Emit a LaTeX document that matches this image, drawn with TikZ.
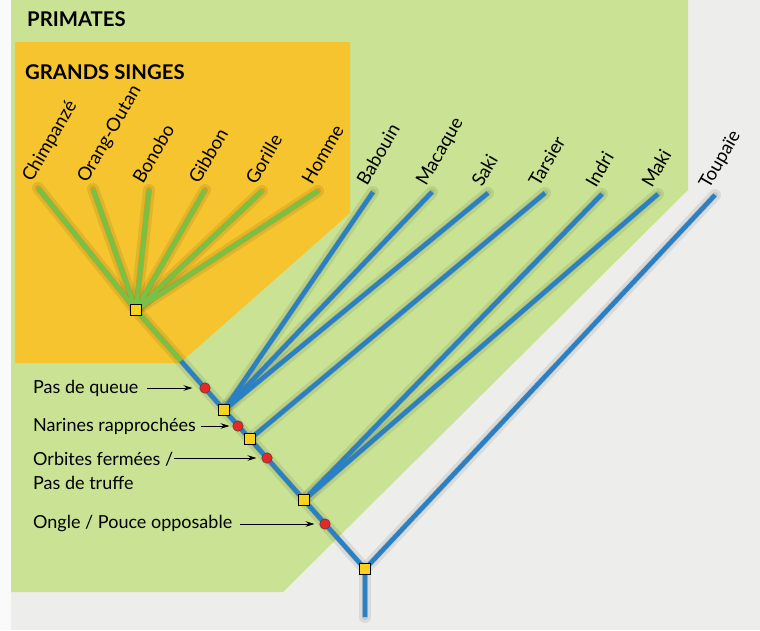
\documentclass[tikz,border=0pt]{standalone}
\usepackage{fontspec}
\setmainfont{Lato}
\usetikzlibrary{arrows.meta,calc}
\definecolor{pagebg}{HTML}{EDEEEC}
\definecolor{primgreen}{HTML}{C9E293}
\definecolor{apeyellow}{HTML}{F5C42E}
\definecolor{leafgreen}{HTML}{79C145}
\definecolor{leafblue}{HTML}{2A80C3}
\definecolor{dotred}{HTML}{E6282B}
\definecolor{sqyellow}{HTML}{F8D21C}
\begin{document}
\begin{tikzpicture}[x=1pt,y=-1pt,
  bluebranch/.style={draw=leafblue,line width=4.6pt},
  greenbranch/.style={draw=leafgreen,line width=4.6pt},
  shadowline/.style={draw=black,opacity=0.08,line width=12pt,line cap=round,shift={(6,7)}},
  shadowcore/.style={draw=black,opacity=0.09,line width=6pt,line cap=round,shift={(5,6)}},
  nodesquare/.style={draw=black,fill=sqyellow,line width=0.7pt,minimum size=10.5pt,inner sep=0pt},
  traitdot/.style={circle,draw=black!75,fill=dotred,line width=0.5pt,minimum size=10.5pt,inner sep=0pt},
  leaflabel/.style={rotate=60,anchor=base west,inner sep=0pt,font=\fontsize{18.5}{18.5}\selectfont},
  traitlabel/.style={anchor=west,inner sep=0pt,font=\fontsize{18}{24}\selectfont,align=left},
  titlelabel/.style={anchor=west,inner sep=0pt,font=\bfseries\fontsize{20.3}{20.3}\selectfont},
  traitarrow/.style={draw=black,line width=0.8pt,-{Stealth[length=9pt,width=5.5pt]}}
]
\useasboundingbox (0,0) rectangle (760,630);
\fill[pagebg] (0,0) rectangle (760,630);
\fill[white!96!gray] (0,0) rectangle (11,630);
% regions
\fill[primgreen] (11,0) -- (688,0) -- (688,190) -- (283,592) -- (11,592) -- cycle;
\fill[apeyellow] (15,42) -- (350,42) -- (350,213) -- (180,363) -- (15,363) -- cycle;
\node[titlelabel] (primates) at (27,19) {PRIMATES};
\node[titlelabel] (grands) at (25,72) {GRANDS SINGES};

% points of the tree
\coordinate (gs) at (136,310);
\coordinate (trans) at (181,361);
\coordinate (s1) at (224,410);
\coordinate (s2) at (250,439);
\coordinate (s3) at (304,500);
\coordinate (root) at (365,569);
\coordinate (base) at (365,617);
\coordinate (d1) at (205,388);
\coordinate (d2) at (238,426);
\coordinate (d3) at (267,458);
\coordinate (d4) at (325,524);

\coordinate (chimp) at (38,188);
\coordinate (orang) at (93,189);
\coordinate (bonobo) at (149,190);
\coordinate (gibbon) at (205,190);
\coordinate (gorille) at (262,191);
\coordinate (homme) at (318,191);
\coordinate (babouin) at (373,192);
\coordinate (macaque) at (432,192);
\coordinate (saki) at (488,193);
\coordinate (tarsier) at (545,193);
\coordinate (indri) at (602,194);
\coordinate (maki) at (658,194);
\coordinate (toupaie) at (715,195);

% shadows
\foreach \a/\b in {chimp/gs,orang/gs,bonobo/gs,gibbon/gs,gorille/gs,homme/gs,
  babouin/s1,macaque/s1,saki/s1,tarsier/s2,indri/s3,maki/s3,toupaie/root,
  gs/root,root/base}
  {\draw[shadowline] (\a) -- (\b);
   \draw[shadowcore] (\a) -- (\b);}

% branches
\foreach \a in {chimp,orang,bonobo,gibbon,gorille,homme}
  \draw[greenbranch] (\a) -- (gs);
\draw[greenbranch] (gs) -- (trans);
\draw[bluebranch] (trans) -- (s1) -- (s2) -- (s3) -- (root) -- (base);
\foreach \a in {babouin,macaque,saki}
  \draw[bluebranch] (\a) -- (s1);
\draw[bluebranch] (tarsier) -- (s2);
\draw[bluebranch] (indri) -- (s3);
\draw[bluebranch] (maki) -- (s3);
\draw[bluebranch] (toupaie) -- (root);

% leaf labels
\foreach \a/\t in {chimp/Chimpanzé,orang/Orang-Outan,bonobo/Bonobo,gibbon/Gibbon,
  gorille/Gorille,homme/Homme,babouin/Babouin,macaque/Macaque,saki/Saki,
  tarsier/Tarsier,indri/Indri,maki/Maki,toupaie/Toupaïe}
  \node[leaflabel] (lab-\a) at ($(\a)+(-6,-5)$) {\t};

% markers
\node[nodesquare] (sq0) at (gs) {};
\node[nodesquare] (sq1) at (s1) {};
\node[nodesquare] (sq2) at (s2) {};
\node[nodesquare] (sq3) at (s3) {};
\node[nodesquare] (sq4) at (root) {};
\node[traitdot] (dot1) at (d1) {};
\node[traitdot] (dot2) at (d2) {};
\node[traitdot] (dot3) at (d3) {};
\node[traitdot] (dot4) at (d4) {};

% trait labels
\node[traitlabel] (t1) at (33,388) {Pas de queue};
\node[traitlabel] (t2) at (33,426) {Narines rapprochées};
\node[traitlabel] (t3) at (33,471) {Orbites fermées /\\Pas de truffe};
\node[traitlabel] (t4) at (33,524) {Ongle / Pouce opposable};
\draw[traitarrow] ($(t1.east |- dot1)+(8,0)$) -- ($(dot1.west)+(-7,0)$);
\draw[traitarrow] ($(t2.east |- dot2)+(5,0)$) -- ($(dot2.west)+(-3,0)$);
\draw[traitarrow] ($(t3.east |- dot3)+(1,0)$) -- ($(dot3.west)+(-5,0)$);
\draw[traitarrow] ($(t4.east |- dot4)+(8,0)$) -- ($(dot4.west)+(-5,0)$);
\end{tikzpicture}
\end{document}
